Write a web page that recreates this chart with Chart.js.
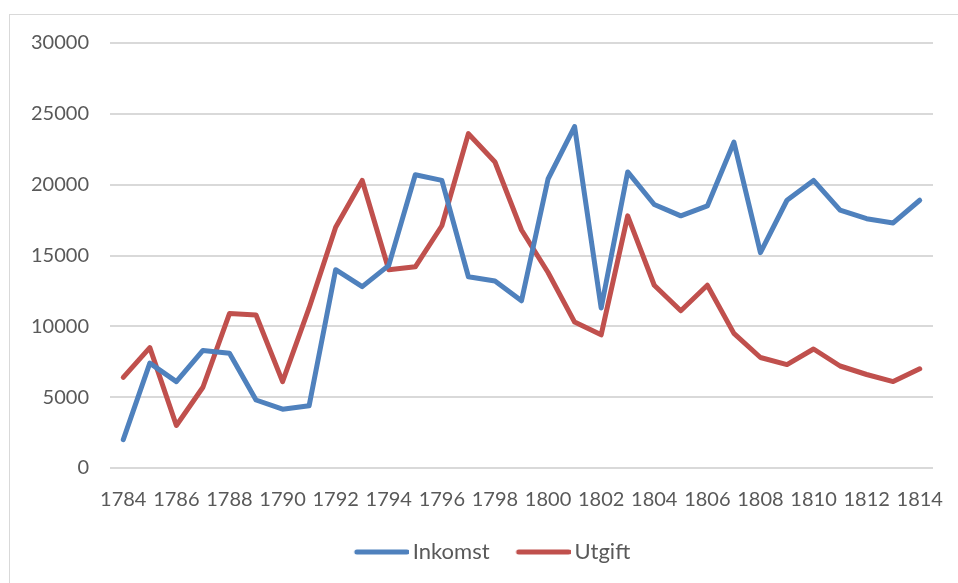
<!DOCTYPE html>
<html>
<head>
<meta charset="utf-8">
<script src="https://cdn.jsdelivr.net/npm/chart.js@4/dist/chart.umd.min.js"></script>
<style>
  html, body { margin: 0; padding: 0; background: #ffffff; }
  body { width: 958px; height: 583px; position: relative; overflow: hidden; }
  #frame { position: absolute; left: 9px; top: 14px; width: 1000px; height: 620px; border: 1.5px solid #d9d9d9; box-sizing: border-box; }
  #wrap { position: absolute; left: 0; top: 0; width: 958px; height: 583px; }
</style>
</head>
<body>
<div id="frame"></div>
<div id="wrap"><canvas id="c" width="958" height="583"></canvas></div>
<script>
const years = [1784,1785,1786,1787,1788,1789,1790,1791,1792,1793,1794,1795,1796,1797,1798,1799,1800,1801,1802,1803,1804,1805,1806,1807,1808,1809,1810,1811,1812,1813,1814];
const inkomst = [2000,7400,6100,8300,8100,4800,4150,4400,14000,12800,14300,20700,20300,13500,13200,11800,20400,24100,11300,20900,18600,17800,18500,23000,15200,18900,20300,18200,17600,17300,18900];
const utgift = [6400,8500,3000,5700,10900,10800,6100,11300,17000,20300,14000,14200,17100,23600,21600,16800,13800,10300,9400,17800,12900,11100,12900,9500,7800,7300,8400,7200,6600,6100,7000];
const seriesNames = ['Inkomst', 'Utgift'];
const yTicks = [0, 5000, 10000, 15000, 20000, 25000, 30000];

const FONT = "Lato, 'Open Sans', sans-serif";
const BLUE = '#4F81BD', RED = '#C0504D';

// legend swatch: a short thick line with round caps, placed inside a wider transparent image
function legendLine(color) {
  const c = document.createElement('canvas');
  c.width = 88; c.height = 8;
  const g = c.getContext('2d');
  g.strokeStyle = color; g.lineWidth = 5; g.lineCap = 'round';
  g.beginPath(); g.moveTo(36, 4); g.lineTo(86, 4); g.stroke();
  return c;
}

new Chart(document.getElementById('c'), {
  type: 'line',
  data: {
    labels: years.map(String),
    datasets: [
      { label: seriesNames[0], data: inkomst, borderColor: BLUE, backgroundColor: BLUE, borderWidth: 5, pointRadius: 0, pointStyle: legendLine(BLUE), tension: 0, borderCapStyle: 'round', borderJoinStyle: 'round' },
      { label: seriesNames[1], data: utgift, borderColor: RED, backgroundColor: RED, borderWidth: 5, pointRadius: 0, pointStyle: legendLine(RED), tension: 0, borderCapStyle: 'round', borderJoinStyle: 'round' }
    ]
  },
  options: {
    responsive: false,
    animation: false,
    events: [],
    layout: { padding: { top: 43, right: 0, left: 0, bottom: 10 } },
    plugins: {
      tooltip: { enabled: false },
      legend: {
        position: 'bottom',
        labels: {
          usePointStyle: true,
          pointStyleWidth: 74,
          boxHeight: 22,
          color: '#595959',
          font: { family: FONT, size: 22 },
          padding: 0
        }
      }
    },
    scales: {
      x: {
        offset: true,
        grid: { display: false, drawTicks: false },
        border: { display: false },
        ticks: {
          autoSkip: false,
          maxRotation: 0,
          minRotation: 0,
          padding: 20,
          color: '#595959',
          font: { family: FONT, size: 20 },
          callback: function(v, i) { return i % 2 === 0 ? String(years[i]) : ''; }
        },
        afterFit: function(s) { s.height = 73; s.paddingLeft = 0; s.paddingRight = 0; }
      },
      y: {
        min: yTicks[0],
        max: yTicks[yTicks.length - 1],
        afterBuildTicks: function(s) { s.ticks = yTicks.map(v => ({ value: v })); },
        grid: { color: '#d9d9d9', lineWidth: 2, drawTicks: false },
        border: { display: false },
        ticks: {
          padding: 21,
          color: '#595959',
          font: { family: FONT, size: 20 },
          callback: function(v) { return String(v); }
        },
        afterFit: function(s) { s.width = 110; }
      },
      yRight: {
        position: 'right',
        min: yTicks[0],
        max: yTicks[yTicks.length - 1],
        grid: { display: false, drawTicks: false },
        border: { display: false },
        ticks: { display: false },
        afterFit: function(s) { s.width = 25; }
      }
    }
  }
});
</script>
</body>
</html>
